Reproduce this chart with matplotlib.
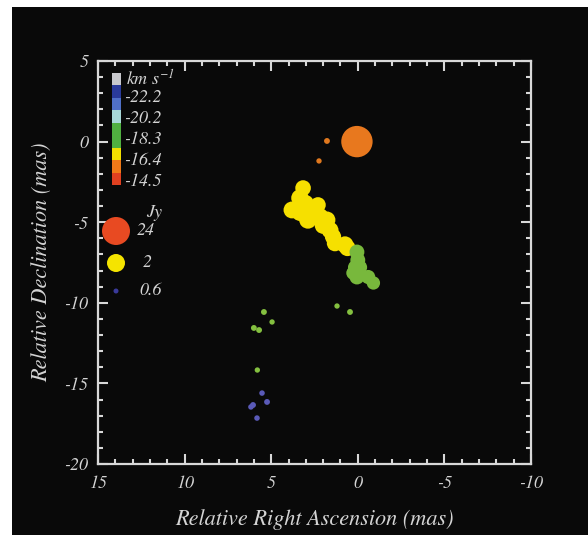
import numpy as np
import matplotlib
matplotlib.use("Agg")
import matplotlib.pyplot as plt
from matplotlib.patches import Rectangle
from matplotlib.colors import ListedColormap
from matplotlib.ticker import MultipleLocator

plt.rcParams['font.family'] = ['STIXGeneral', 'Liberation Serif', 'DejaVu Serif']
plt.rcParams['font.style'] = 'italic'
plt.rcParams['mathtext.fontset'] = 'stix'
plt.rcParams['axes.unicode_minus'] = False

# maser spots: RA offset (mas), Dec offset (mas), flux (Jy)
orange_ra = [0.05, 1.78, 2.24]
orange_dec = [0.0, 0.04, -1.2]
orange_flux = [32, 0.65, 0.62]

yellow_ra = [3.16, 3.34, 3.8, 3.34, 2.76, 2.3, 2.88, 2.18, 1.78, 1.6, 1.43, 1.32, 0.74, 0.6,
             2.5, 2.0, 3.0]
yellow_dec = [-2.88, -3.5, -4.24, -4.4, -4.1, -3.93, -4.86, -4.68, -4.86, -5.5, -5.9, -6.3, -6.4, -6.6,
              -4.5, -5.2, -3.8]
yellow_flux = [1.6, 1.9, 1.8, 1.8, 1.7, 1.6, 1.9, 1.9, 1.8, 1.8, 1.7, 1.7, 1.8, 1.7,
               1.8, 1.8, 1.6]

green_ra = [0.05, 0.0, 0.16, -0.13, 0.05, -0.6, -0.9, 0.28]
green_dec = [-6.85, -7.35, -7.8, -7.8, -8.4, -8.4, -8.77, -8.15]
green_flux = [1.5, 1.5, 1.4, 1.4, 1.5, 1.4, 1.3, 1.3]

dim_green_ra = [5.42, 4.95, 6.0, 5.7, 5.8, 1.2, 0.45]
dim_green_dec = [-10.57, -11.19, -11.56, -11.69, -14.17, -10.2, -10.57]
dim_green_flux = [0.65, 0.62, 0.65, 0.65, 0.62, 0.62, 0.65]

blue_ra = [5.53, 5.24, 6.05, 6.17, 5.82]
blue_dec = [-15.6, -16.15, -16.34, -16.46, -17.15]
blue_flux = [0.63, 0.65, 0.65, 0.63, 0.63]

# velocity key
vel_colors = ['#c8c8cc', '#2a3a9a', '#5070c8', '#a8d8d8', '#50b040', '#50b040',
              '#f2e000', '#f07a18', '#e04020']
vel_labels = ['-22.2', '-20.2', '-18.3', '-16.4', '-14.5']

# flux key
key_flux = [24, 2, 0.6]
key_labels = ['24', '2', '0.6']
key_colors = ['#e84a22', '#f5e400', '#3a3a9a']

# flux -> marker diameter in pixels
scale_flux = [0.5, 0.6, 2, 24, 40]
scale_diam = [4, 5, 18, 28, 34]


def size_of(flux):
    d = np.interp(np.log(flux), np.log(scale_flux), scale_diam)
    return (d * 0.72) ** 2


W, H = 588, 542
fig = plt.figure(figsize=(W / 100, H / 100), dpi=100, facecolor='white')
fig.patches.append(Rectangle((12 / W, 1 - 535 / H), 1 - 12 / W, 528 / H,
                             transform=fig.transFigure, facecolor='#090909',
                             edgecolor='none', zorder=-10))

ax = fig.add_axes([98 / W, 1 - 464 / H, 433 / W, 403 / H])
ax.set_facecolor('#090909')
txt = '#d4d4d4'

ax.scatter(orange_ra[1:], orange_dec[1:], s=size_of(np.array(orange_flux[1:])),
           color='#e0781e', edgecolors='none', zorder=3)
ax.scatter(yellow_ra, yellow_dec, s=size_of(np.array(yellow_flux)),
           color='#f6e000', edgecolors='none', zorder=3)
ax.scatter(green_ra, green_dec, s=size_of(np.array(green_flux)),
           color='#78b83c', edgecolors='none', zorder=4)
ax.scatter(dim_green_ra, dim_green_dec, s=size_of(np.array(dim_green_flux)),
           color='#84c040', edgecolors='none', zorder=3)
ax.scatter(blue_ra, blue_dec, s=size_of(np.array(blue_flux)),
           color='#5a5ab8', edgecolors='none', zorder=3)
ax.scatter(orange_ra[:1], orange_dec[:1], s=size_of(np.array(orange_flux[:1])),
           color='#e8781e', edgecolors='none', zorder=5)

ax.set_xlim(15, -10)
ax.set_ylim(-20, 5)
ax.xaxis.set_major_locator(MultipleLocator(5))
ax.xaxis.set_minor_locator(MultipleLocator(1))
ax.yaxis.set_major_locator(MultipleLocator(5))
ax.yaxis.set_minor_locator(MultipleLocator(1))
ax.tick_params(which='both', direction='in', top=True, right=True,
               color='#d8d8d8', width=1.5, labelcolor=txt, labelsize=13)
ax.tick_params(which='major', length=7)
ax.tick_params(which='minor', length=3.5)
ax.tick_params(axis='x', pad=8)
ax.tick_params(axis='y', pad=7)
for sp in ax.spines.values():
    sp.set_color('#d8d8d8')
    sp.set_linewidth(1.6)
for lab in ax.get_xticklabels() + ax.get_yticklabels():
    lab.set_fontstyle('italic')

ax.set_xlabel('Relative Right Ascension (mas)', color=txt, fontsize=16,
              labelpad=12, fontstyle='italic')
ax.set_ylabel('Relative Declination (mas)', color=txt, fontsize=16,
              labelpad=8, fontstyle='italic')

# velocity colour key
cax = fig.add_axes([112 / W, 1 - 185 / H, 9 / W, 112 / H])
cax.imshow(np.arange(len(vel_colors)).reshape(-1, 1), cmap=ListedColormap(vel_colors),
           aspect='auto', interpolation='nearest')
cax.set_axis_off()
fig.text(126 / W, 1 - 79 / H, r'$\mathit{km\ s^{-1}}$', color=txt, fontsize=13,
         va='center', ha='left')
for i, lab in enumerate(vel_labels):
    fig.text(124 / W, 1 - (98 + 21 * i) / H, lab, color=txt, fontsize=13,
             va='center', ha='left', fontstyle='italic')

# flux key
fig.text(146 / W, 1 - 213 / H, 'Jy', color=txt, fontsize=13, va='center', ha='left',
         fontstyle='italic')
key_y = [231, 263, 291]
key_x = [137, 143, 139]
for f, lab, c, yy, xx in zip(key_flux, key_labels, key_colors, key_y, key_x):
    ax.scatter([116 / W], [1 - yy / H], s=size_of(f), color=c, edgecolors='none',
               transform=fig.transFigure, clip_on=False, zorder=6)
    fig.text(xx / W, 1 - yy / H, lab, color=txt, fontsize=13, va='center', ha='left',
             fontstyle='italic')

fig.savefig('out.png', dpi=100, facecolor=fig.get_facecolor())
